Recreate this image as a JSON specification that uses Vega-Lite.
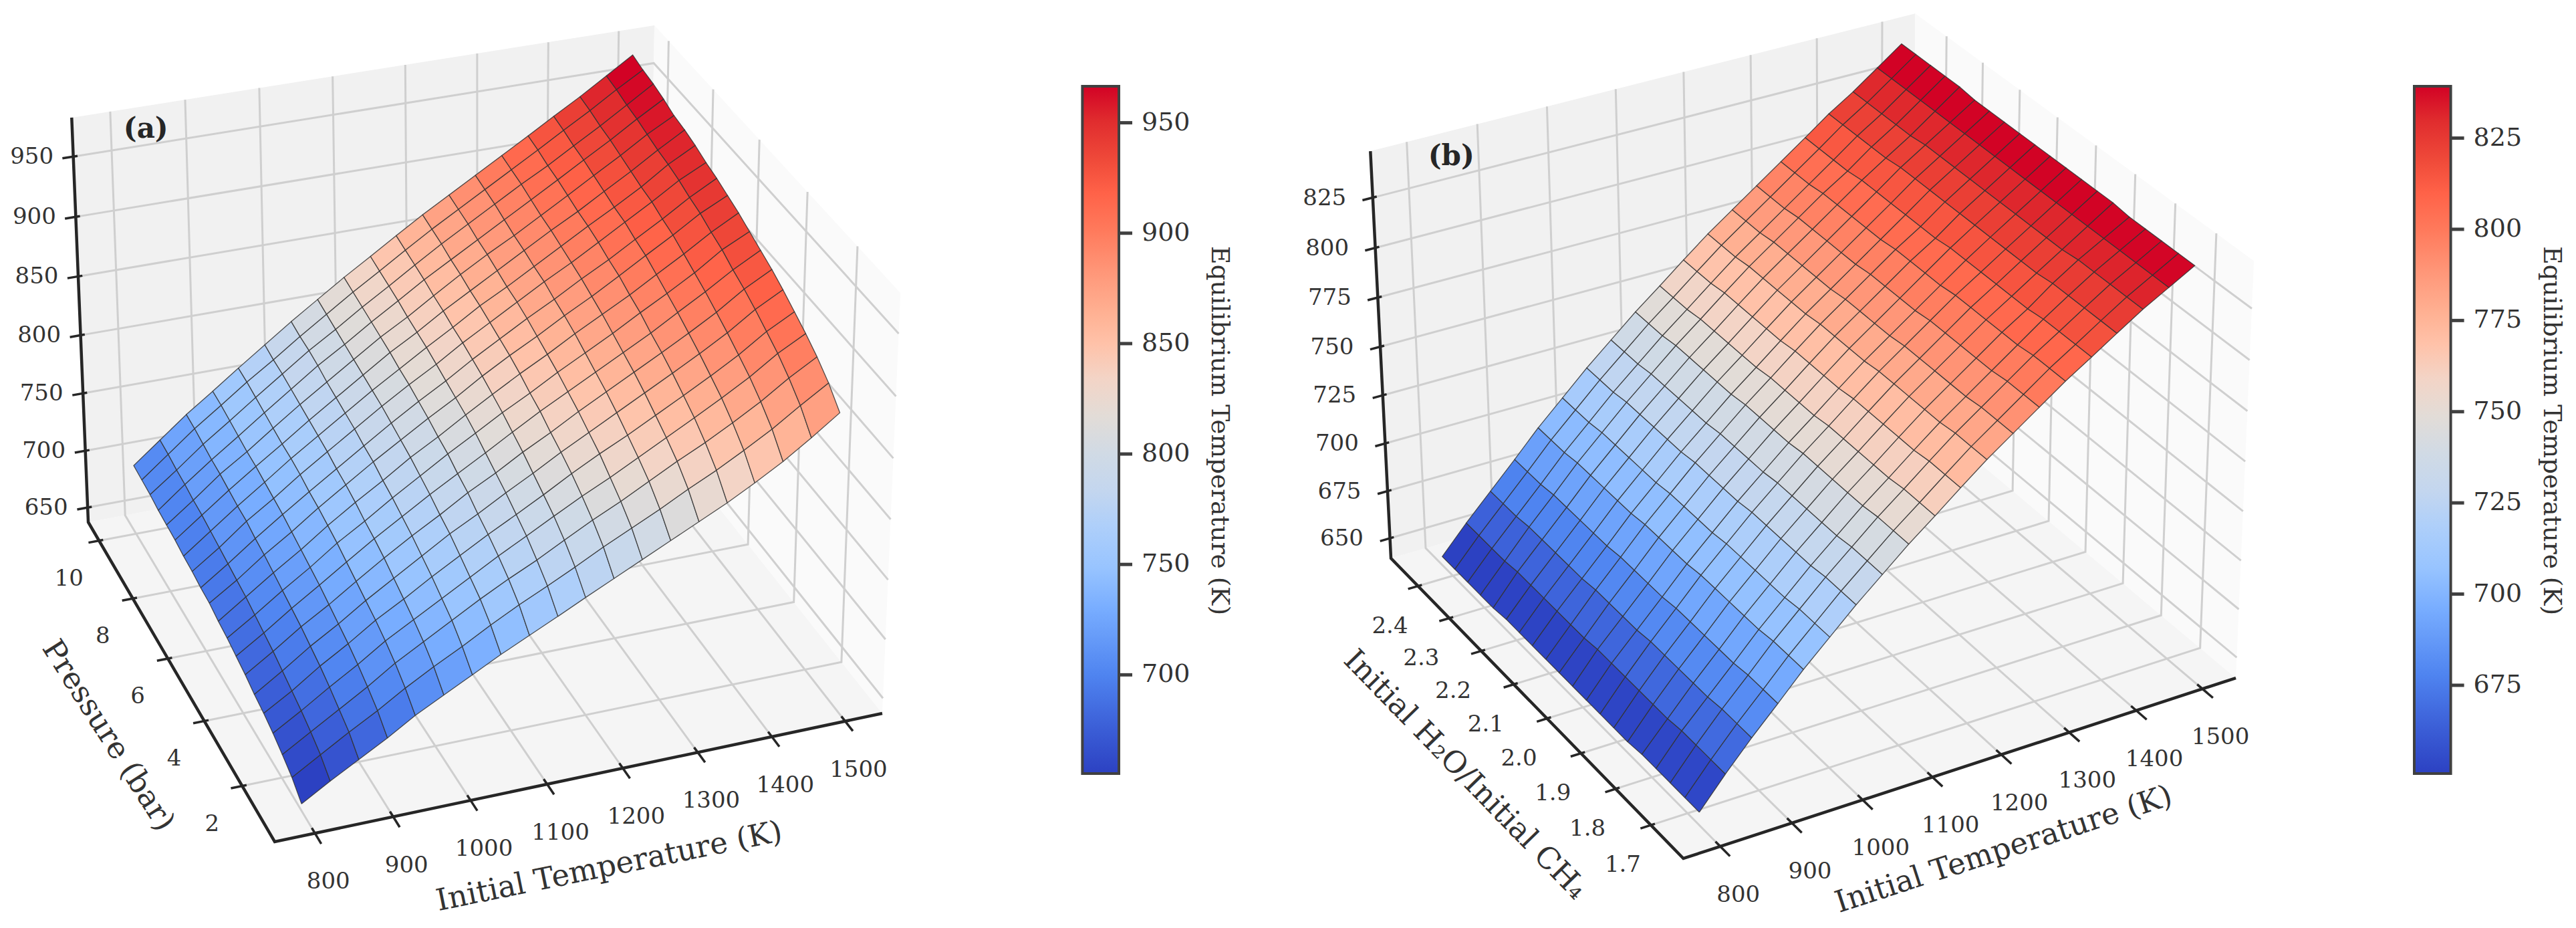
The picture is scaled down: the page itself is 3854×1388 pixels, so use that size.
{"$schema":"https://vega.github.io/schema/vega-lite/v6.json","width":3854,"height":1388,"padding":0,"autosize":{"type":"fit","contains":"padding"},"background":"white","config":{"view":{"stroke":null}},
"params":[{"name":"H","value":[[411,967.7,-265.1,-32.2,1259,-144.5,-396,-676.5,1,0.0445,0.105,-0.045,0.344,10.312,637,345,655.3,3.303,1619.4,1674,966.5],[2518.5,1009.9,-243.3,-130,1284,-214.4,-371.1,-676.5,1,0.0548,0.0933,-0.047,1.61,0.878,639.3,208.65,650.8,5.456,3612,3666.6,839.2]]}],
"data":{"values":[
{"p":0,"k":"pane","s":"f","n":0,"T":749,"y":0.344,"Z":637},{"p":0,"k":"pane","s":"f","n":1,"T":1551,"y":0.344,"Z":637},{"p":0,"k":"pane","s":"f","n":2,"T":1551,"y":10.656,"Z":637},{"p":0,"k":"pane","s":"f","n":3,"T":749,"y":10.656,"Z":637},
{"p":0,"k":"pane","s":"b","n":0,"T":749,"y":10.656,"Z":637},{"p":0,"k":"pane","s":"b","n":1,"T":1551,"y":10.656,"Z":637},{"p":0,"k":"pane","s":"b","n":2,"T":1551,"y":10.656,"Z":982},{"p":0,"k":"pane","s":"b","n":3,"T":749,"y":10.656,"Z":982},
{"p":0,"k":"pane","s":"r","n":0,"T":1551,"y":0.344,"Z":637},{"p":0,"k":"pane","s":"r","n":1,"T":1551,"y":10.656,"Z":637},{"p":0,"k":"pane","s":"r","n":2,"T":1551,"y":10.656,"Z":982},{"p":0,"k":"pane","s":"r","n":3,"T":1551,"y":0.344,"Z":982},
{"p":1,"k":"pane","s":"f","n":0,"T":749,"y":1.61,"Z":639.3},{"p":1,"k":"pane","s":"f","n":1,"T":1551,"y":1.61,"Z":639.3},{"p":1,"k":"pane","s":"f","n":2,"T":1551,"y":2.488,"Z":639.3},{"p":1,"k":"pane","s":"f","n":3,"T":749,"y":2.488,"Z":639.3},
{"p":1,"k":"pane","s":"b","n":0,"T":749,"y":2.488,"Z":639.3},{"p":1,"k":"pane","s":"b","n":1,"T":1551,"y":2.488,"Z":639.3},{"p":1,"k":"pane","s":"b","n":2,"T":1551,"y":2.488,"Z":847.9},{"p":1,"k":"pane","s":"b","n":3,"T":749,"y":2.488,"Z":847.9},
{"p":1,"k":"pane","s":"r","n":0,"T":1551,"y":1.61,"Z":639.3},{"p":1,"k":"pane","s":"r","n":1,"T":1551,"y":2.488,"Z":639.3},{"p":1,"k":"pane","s":"r","n":2,"T":1551,"y":2.488,"Z":847.9},{"p":1,"k":"pane","s":"r","n":3,"T":1551,"y":1.61,"Z":847.9},
{"p":0,"k":"ax","n":0,"T":1551,"y":0.344,"Z":637},{"p":0,"k":"ax","n":1,"T":749,"y":0.344,"Z":637},{"p":0,"k":"ax","n":2,"T":749,"y":10.656,"Z":637},{"p":0,"k":"ax","n":3,"T":749,"y":10.656,"Z":982},
{"p":1,"k":"ax","n":0,"T":1551,"y":1.61,"Z":639.3},{"p":1,"k":"ax","n":1,"T":749,"y":1.61,"Z":639.3},{"p":1,"k":"ax","n":2,"T":749,"y":2.488,"Z":639.3},{"p":1,"k":"ax","n":3,"T":749,"y":2.488,"Z":847.9},
{"p":0,"k":"T","t":800},{"p":0,"k":"T","t":900},{"p":0,"k":"T","t":1000},{"p":0,"k":"T","t":1100},{"p":0,"k":"T","t":1200},{"p":0,"k":"T","t":1300},{"p":0,"k":"T","t":1400},{"p":0,"k":"T","t":1500},
{"p":0,"k":"y","t":2},{"p":0,"k":"y","t":4},{"p":0,"k":"y","t":6},{"p":0,"k":"y","t":8},{"p":0,"k":"y","t":10},
{"p":0,"k":"Z","t":650},{"p":0,"k":"Z","t":700},{"p":0,"k":"Z","t":750},{"p":0,"k":"Z","t":800},{"p":0,"k":"Z","t":850},{"p":0,"k":"Z","t":900},{"p":0,"k":"Z","t":950},
{"p":1,"k":"T","t":800},{"p":1,"k":"T","t":900},{"p":1,"k":"T","t":1000},{"p":1,"k":"T","t":1100},{"p":1,"k":"T","t":1200},{"p":1,"k":"T","t":1300},{"p":1,"k":"T","t":1400},{"p":1,"k":"T","t":1500},
{"p":1,"k":"y","t":1.7},{"p":1,"k":"y","t":1.8},{"p":1,"k":"y","t":1.9},{"p":1,"k":"y","t":2.0},{"p":1,"k":"y","t":2.1},{"p":1,"k":"y","t":2.2},{"p":1,"k":"y","t":2.3},{"p":1,"k":"y","t":2.4},
{"p":1,"k":"Z","t":650},{"p":1,"k":"Z","t":675},{"p":1,"k":"Z","t":700},{"p":1,"k":"Z","t":725},{"p":1,"k":"Z","t":750},{"p":1,"k":"Z","t":775},{"p":1,"k":"Z","t":800},{"p":1,"k":"Z","t":825},
{"p":0,"k":"T","t":1150,"title":"Initial Temperature (K)"},{"p":0,"k":"y","t":6,"title":"Pressure (bar)"},{"p":0,"k":"Z","t":982,"title":"(a)"},
{"p":1,"k":"T","t":1150,"title":"Initial Temperature (K)"},{"p":1,"k":"y","t":2.0,"title":"Initial H₂O/Initial CH₄"},{"p":1,"k":"Z","t":847.9,"title":"(b)"},
{"p":0,"k":"cb","cz":655.3,"cz2":966.5},{"p":1,"k":"cb","cz":650.8,"cz2":839.2},
{"p":0,"k":"ct","cz":700},{"p":0,"k":"ct","cz":750},{"p":0,"k":"ct","cz":800},{"p":0,"k":"ct","cz":850},{"p":0,"k":"ct","cz":900},{"p":0,"k":"ct","cz":950},
{"p":1,"k":"ct","cz":675},{"p":1,"k":"ct","cz":700},{"p":1,"k":"ct","cz":725},{"p":1,"k":"ct","cz":750},{"p":1,"k":"ct","cz":775},{"p":1,"k":"ct","cz":800},{"p":1,"k":"ct","cz":825},
{"p":0,"k":"cl","cz":810.6,"title":"Equilibrium Temperature (K)"},{"p":1,"k":"cl","cz":744.8,"title":"Equilibrium Temperature (K)"},
{"p":0,"T":800,"y":1,"Z":643},{"p":0,"T":800,"y":1.47,"Z":652},{"p":0,"T":800,"y":1.95,"Z":658},{"p":0,"T":800,"y":2.42,"Z":663},{"p":0,"T":800,"y":2.89,"Z":667},{"p":0,"T":800,"y":3.37,"Z":670},{"p":0,"T":800,"y":3.84,"Z":674},{"p":0,"T":800,"y":4.32,"Z":677},{"p":0,"T":800,"y":4.79,"Z":680},{"p":0,"T":800,"y":5.26,"Z":682},{"p":0,"T":800,"y":5.74,"Z":685},{"p":0,"T":800,"y":6.21,"Z":686},{"p":0,"T":800,"y":6.68,"Z":688},{"p":0,"T":800,"y":7.16,"Z":689},{"p":0,"T":800,"y":7.63,"Z":691},{"p":0,"T":800,"y":8.11,"Z":692},{"p":0,"T":800,"y":8.58,"Z":693},{"p":0,"T":800,"y":9.05,"Z":695},{"p":0,"T":800,"y":9.53,"Z":696},{"p":0,"T":800,"y":10,"Z":697},
{"p":0,"T":837,"y":1,"Z":657},{"p":0,"T":837,"y":1.47,"Z":666},{"p":0,"T":837,"y":1.95,"Z":672},{"p":0,"T":837,"y":2.42,"Z":677},{"p":0,"T":837,"y":2.89,"Z":681},{"p":0,"T":837,"y":3.37,"Z":685},{"p":0,"T":837,"y":3.84,"Z":689},{"p":0,"T":837,"y":4.32,"Z":692},{"p":0,"T":837,"y":4.79,"Z":695},{"p":0,"T":837,"y":5.26,"Z":698},{"p":0,"T":837,"y":5.74,"Z":700},{"p":0,"T":837,"y":6.21,"Z":702},{"p":0,"T":837,"y":6.68,"Z":704},{"p":0,"T":837,"y":7.16,"Z":706},{"p":0,"T":837,"y":7.63,"Z":708},{"p":0,"T":837,"y":8.11,"Z":709},{"p":0,"T":837,"y":8.58,"Z":711},{"p":0,"T":837,"y":9.05,"Z":712},{"p":0,"T":837,"y":9.53,"Z":714},{"p":0,"T":837,"y":10,"Z":715},
{"p":0,"T":874,"y":1,"Z":670},{"p":0,"T":874,"y":1.47,"Z":680},{"p":0,"T":874,"y":1.95,"Z":686},{"p":0,"T":874,"y":2.42,"Z":692},{"p":0,"T":874,"y":2.89,"Z":697},{"p":0,"T":874,"y":3.37,"Z":701},{"p":0,"T":874,"y":3.84,"Z":705},{"p":0,"T":874,"y":4.32,"Z":708},{"p":0,"T":874,"y":4.79,"Z":711},{"p":0,"T":874,"y":5.26,"Z":714},{"p":0,"T":874,"y":5.74,"Z":717},{"p":0,"T":874,"y":6.21,"Z":719},{"p":0,"T":874,"y":6.68,"Z":722},{"p":0,"T":874,"y":7.16,"Z":723},{"p":0,"T":874,"y":7.63,"Z":725},{"p":0,"T":874,"y":8.11,"Z":727},{"p":0,"T":874,"y":8.58,"Z":728},{"p":0,"T":874,"y":9.05,"Z":730},{"p":0,"T":874,"y":9.53,"Z":732},{"p":0,"T":874,"y":10,"Z":733},
{"p":0,"T":911,"y":1,"Z":683},{"p":0,"T":911,"y":1.47,"Z":693},{"p":0,"T":911,"y":1.95,"Z":700},{"p":0,"T":911,"y":2.42,"Z":706},{"p":0,"T":911,"y":2.89,"Z":711},{"p":0,"T":911,"y":3.37,"Z":715},{"p":0,"T":911,"y":3.84,"Z":719},{"p":0,"T":911,"y":4.32,"Z":723},{"p":0,"T":911,"y":4.79,"Z":726},{"p":0,"T":911,"y":5.26,"Z":729},{"p":0,"T":911,"y":5.74,"Z":732},{"p":0,"T":911,"y":6.21,"Z":735},{"p":0,"T":911,"y":6.68,"Z":737},{"p":0,"T":911,"y":7.16,"Z":739},{"p":0,"T":911,"y":7.63,"Z":741},{"p":0,"T":911,"y":8.11,"Z":742},{"p":0,"T":911,"y":8.58,"Z":744},{"p":0,"T":911,"y":9.05,"Z":746},{"p":0,"T":911,"y":9.53,"Z":748},{"p":0,"T":911,"y":10,"Z":749},
{"p":0,"T":947,"y":1,"Z":697},{"p":0,"T":947,"y":1.47,"Z":707},{"p":0,"T":947,"y":1.95,"Z":715},{"p":0,"T":947,"y":2.42,"Z":721},{"p":0,"T":947,"y":2.89,"Z":726},{"p":0,"T":947,"y":3.37,"Z":730},{"p":0,"T":947,"y":3.84,"Z":734},{"p":0,"T":947,"y":4.32,"Z":738},{"p":0,"T":947,"y":4.79,"Z":742},{"p":0,"T":947,"y":5.26,"Z":745},{"p":0,"T":947,"y":5.74,"Z":748},{"p":0,"T":947,"y":6.21,"Z":750},{"p":0,"T":947,"y":6.68,"Z":753},{"p":0,"T":947,"y":7.16,"Z":755},{"p":0,"T":947,"y":7.63,"Z":756},{"p":0,"T":947,"y":8.11,"Z":758},{"p":0,"T":947,"y":8.58,"Z":760},{"p":0,"T":947,"y":9.05,"Z":762},{"p":0,"T":947,"y":9.53,"Z":764},{"p":0,"T":947,"y":10,"Z":765},
{"p":0,"T":984,"y":1,"Z":709},{"p":0,"T":984,"y":1.47,"Z":720},{"p":0,"T":984,"y":1.95,"Z":728},{"p":0,"T":984,"y":2.42,"Z":734},{"p":0,"T":984,"y":2.89,"Z":739},{"p":0,"T":984,"y":3.37,"Z":744},{"p":0,"T":984,"y":3.84,"Z":749},{"p":0,"T":984,"y":4.32,"Z":753},{"p":0,"T":984,"y":4.79,"Z":756},{"p":0,"T":984,"y":5.26,"Z":760},{"p":0,"T":984,"y":5.74,"Z":763},{"p":0,"T":984,"y":6.21,"Z":765},{"p":0,"T":984,"y":6.68,"Z":768},{"p":0,"T":984,"y":7.16,"Z":770},{"p":0,"T":984,"y":7.63,"Z":772},{"p":0,"T":984,"y":8.11,"Z":774},{"p":0,"T":984,"y":8.58,"Z":776},{"p":0,"T":984,"y":9.05,"Z":778},{"p":0,"T":984,"y":9.53,"Z":779},{"p":0,"T":984,"y":10,"Z":781},
{"p":0,"T":1021,"y":1,"Z":721},{"p":0,"T":1021,"y":1.47,"Z":732},{"p":0,"T":1021,"y":1.95,"Z":741},{"p":0,"T":1021,"y":2.42,"Z":747},{"p":0,"T":1021,"y":2.89,"Z":753},{"p":0,"T":1021,"y":3.37,"Z":758},{"p":0,"T":1021,"y":3.84,"Z":763},{"p":0,"T":1021,"y":4.32,"Z":767},{"p":0,"T":1021,"y":4.79,"Z":771},{"p":0,"T":1021,"y":5.26,"Z":774},{"p":0,"T":1021,"y":5.74,"Z":778},{"p":0,"T":1021,"y":6.21,"Z":780},{"p":0,"T":1021,"y":6.68,"Z":783},{"p":0,"T":1021,"y":7.16,"Z":785},{"p":0,"T":1021,"y":7.63,"Z":787},{"p":0,"T":1021,"y":8.11,"Z":789},{"p":0,"T":1021,"y":8.58,"Z":792},{"p":0,"T":1021,"y":9.05,"Z":794},{"p":0,"T":1021,"y":9.53,"Z":795},{"p":0,"T":1021,"y":10,"Z":797},
{"p":0,"T":1058,"y":1,"Z":733},{"p":0,"T":1058,"y":1.47,"Z":745},{"p":0,"T":1058,"y":1.95,"Z":754},{"p":0,"T":1058,"y":2.42,"Z":760},{"p":0,"T":1058,"y":2.89,"Z":766},{"p":0,"T":1058,"y":3.37,"Z":772},{"p":0,"T":1058,"y":3.84,"Z":776},{"p":0,"T":1058,"y":4.32,"Z":781},{"p":0,"T":1058,"y":4.79,"Z":785},{"p":0,"T":1058,"y":5.26,"Z":789},{"p":0,"T":1058,"y":5.74,"Z":792},{"p":0,"T":1058,"y":6.21,"Z":795},{"p":0,"T":1058,"y":6.68,"Z":798},{"p":0,"T":1058,"y":7.16,"Z":800},{"p":0,"T":1058,"y":7.63,"Z":802},{"p":0,"T":1058,"y":8.11,"Z":804},{"p":0,"T":1058,"y":8.58,"Z":806},{"p":0,"T":1058,"y":9.05,"Z":808},{"p":0,"T":1058,"y":9.53,"Z":810},{"p":0,"T":1058,"y":10,"Z":812},
{"p":0,"T":1095,"y":1,"Z":744},{"p":0,"T":1095,"y":1.47,"Z":757},{"p":0,"T":1095,"y":1.95,"Z":766},{"p":0,"T":1095,"y":2.42,"Z":773},{"p":0,"T":1095,"y":2.89,"Z":779},{"p":0,"T":1095,"y":3.37,"Z":784},{"p":0,"T":1095,"y":3.84,"Z":790},{"p":0,"T":1095,"y":4.32,"Z":794},{"p":0,"T":1095,"y":4.79,"Z":799},{"p":0,"T":1095,"y":5.26,"Z":802},{"p":0,"T":1095,"y":5.74,"Z":806},{"p":0,"T":1095,"y":6.21,"Z":809},{"p":0,"T":1095,"y":6.68,"Z":812},{"p":0,"T":1095,"y":7.16,"Z":814},{"p":0,"T":1095,"y":7.63,"Z":817},{"p":0,"T":1095,"y":8.11,"Z":819},{"p":0,"T":1095,"y":8.58,"Z":821},{"p":0,"T":1095,"y":9.05,"Z":823},{"p":0,"T":1095,"y":9.53,"Z":825},{"p":0,"T":1095,"y":10,"Z":827},
{"p":0,"T":1132,"y":1,"Z":755},{"p":0,"T":1132,"y":1.47,"Z":768},{"p":0,"T":1132,"y":1.95,"Z":777},{"p":0,"T":1132,"y":2.42,"Z":785},{"p":0,"T":1132,"y":2.89,"Z":791},{"p":0,"T":1132,"y":3.37,"Z":797},{"p":0,"T":1132,"y":3.84,"Z":802},{"p":0,"T":1132,"y":4.32,"Z":807},{"p":0,"T":1132,"y":4.79,"Z":812},{"p":0,"T":1132,"y":5.26,"Z":816},{"p":0,"T":1132,"y":5.74,"Z":819},{"p":0,"T":1132,"y":6.21,"Z":822},{"p":0,"T":1132,"y":6.68,"Z":825},{"p":0,"T":1132,"y":7.16,"Z":828},{"p":0,"T":1132,"y":7.63,"Z":830},{"p":0,"T":1132,"y":8.11,"Z":832},{"p":0,"T":1132,"y":8.58,"Z":835},{"p":0,"T":1132,"y":9.05,"Z":837},{"p":0,"T":1132,"y":9.53,"Z":839},{"p":0,"T":1132,"y":10,"Z":841},
{"p":0,"T":1168,"y":1,"Z":766},{"p":0,"T":1168,"y":1.47,"Z":779},{"p":0,"T":1168,"y":1.95,"Z":789},{"p":0,"T":1168,"y":2.42,"Z":797},{"p":0,"T":1168,"y":2.89,"Z":803},{"p":0,"T":1168,"y":3.37,"Z":809},{"p":0,"T":1168,"y":3.84,"Z":815},{"p":0,"T":1168,"y":4.32,"Z":820},{"p":0,"T":1168,"y":4.79,"Z":825},{"p":0,"T":1168,"y":5.26,"Z":829},{"p":0,"T":1168,"y":5.74,"Z":833},{"p":0,"T":1168,"y":6.21,"Z":836},{"p":0,"T":1168,"y":6.68,"Z":839},{"p":0,"T":1168,"y":7.16,"Z":841},{"p":0,"T":1168,"y":7.63,"Z":844},{"p":0,"T":1168,"y":8.11,"Z":846},{"p":0,"T":1168,"y":8.58,"Z":849},{"p":0,"T":1168,"y":9.05,"Z":851},{"p":0,"T":1168,"y":9.53,"Z":853},{"p":0,"T":1168,"y":10,"Z":855},
{"p":0,"T":1205,"y":1,"Z":777},{"p":0,"T":1205,"y":1.47,"Z":791},{"p":0,"T":1205,"y":1.95,"Z":801},{"p":0,"T":1205,"y":2.42,"Z":809},{"p":0,"T":1205,"y":2.89,"Z":816},{"p":0,"T":1205,"y":3.37,"Z":822},{"p":0,"T":1205,"y":3.84,"Z":827},{"p":0,"T":1205,"y":4.32,"Z":833},{"p":0,"T":1205,"y":4.79,"Z":837},{"p":0,"T":1205,"y":5.26,"Z":842},{"p":0,"T":1205,"y":5.74,"Z":846},{"p":0,"T":1205,"y":6.21,"Z":849},{"p":0,"T":1205,"y":6.68,"Z":852},{"p":0,"T":1205,"y":7.16,"Z":855},{"p":0,"T":1205,"y":7.63,"Z":857},{"p":0,"T":1205,"y":8.11,"Z":860},{"p":0,"T":1205,"y":8.58,"Z":862},{"p":0,"T":1205,"y":9.05,"Z":865},{"p":0,"T":1205,"y":9.53,"Z":867},{"p":0,"T":1205,"y":10,"Z":869},
{"p":0,"T":1242,"y":1,"Z":788},{"p":0,"T":1242,"y":1.47,"Z":802},{"p":0,"T":1242,"y":1.95,"Z":812},{"p":0,"T":1242,"y":2.42,"Z":820},{"p":0,"T":1242,"y":2.89,"Z":828},{"p":0,"T":1242,"y":3.37,"Z":834},{"p":0,"T":1242,"y":3.84,"Z":840},{"p":0,"T":1242,"y":4.32,"Z":845},{"p":0,"T":1242,"y":4.79,"Z":850},{"p":0,"T":1242,"y":5.26,"Z":854},{"p":0,"T":1242,"y":5.74,"Z":858},{"p":0,"T":1242,"y":6.21,"Z":862},{"p":0,"T":1242,"y":6.68,"Z":865},{"p":0,"T":1242,"y":7.16,"Z":867},{"p":0,"T":1242,"y":7.63,"Z":870},{"p":0,"T":1242,"y":8.11,"Z":873},{"p":0,"T":1242,"y":8.58,"Z":875},{"p":0,"T":1242,"y":9.05,"Z":878},{"p":0,"T":1242,"y":9.53,"Z":880},{"p":0,"T":1242,"y":10,"Z":882},
{"p":0,"T":1279,"y":1,"Z":799},{"p":0,"T":1279,"y":1.47,"Z":813},{"p":0,"T":1279,"y":1.95,"Z":824},{"p":0,"T":1279,"y":2.42,"Z":832},{"p":0,"T":1279,"y":2.89,"Z":839},{"p":0,"T":1279,"y":3.37,"Z":846},{"p":0,"T":1279,"y":3.84,"Z":852},{"p":0,"T":1279,"y":4.32,"Z":857},{"p":0,"T":1279,"y":4.79,"Z":862},{"p":0,"T":1279,"y":5.26,"Z":867},{"p":0,"T":1279,"y":5.74,"Z":871},{"p":0,"T":1279,"y":6.21,"Z":874},{"p":0,"T":1279,"y":6.68,"Z":878},{"p":0,"T":1279,"y":7.16,"Z":880},{"p":0,"T":1279,"y":7.63,"Z":883},{"p":0,"T":1279,"y":8.11,"Z":885},{"p":0,"T":1279,"y":8.58,"Z":888},{"p":0,"T":1279,"y":9.05,"Z":891},{"p":0,"T":1279,"y":9.53,"Z":893},{"p":0,"T":1279,"y":10,"Z":895},
{"p":0,"T":1316,"y":1,"Z":810},{"p":0,"T":1316,"y":1.47,"Z":825},{"p":0,"T":1316,"y":1.95,"Z":836},{"p":0,"T":1316,"y":2.42,"Z":844},{"p":0,"T":1316,"y":2.89,"Z":851},{"p":0,"T":1316,"y":3.37,"Z":858},{"p":0,"T":1316,"y":3.84,"Z":864},{"p":0,"T":1316,"y":4.32,"Z":869},{"p":0,"T":1316,"y":4.79,"Z":874},{"p":0,"T":1316,"y":5.26,"Z":879},{"p":0,"T":1316,"y":5.74,"Z":883},{"p":0,"T":1316,"y":6.21,"Z":887},{"p":0,"T":1316,"y":6.68,"Z":890},{"p":0,"T":1316,"y":7.16,"Z":893},{"p":0,"T":1316,"y":7.63,"Z":896},{"p":0,"T":1316,"y":8.11,"Z":898},{"p":0,"T":1316,"y":8.58,"Z":901},{"p":0,"T":1316,"y":9.05,"Z":904},{"p":0,"T":1316,"y":9.53,"Z":906},{"p":0,"T":1316,"y":10,"Z":908},
{"p":0,"T":1353,"y":1,"Z":821},{"p":0,"T":1353,"y":1.47,"Z":836},{"p":0,"T":1353,"y":1.95,"Z":847},{"p":0,"T":1353,"y":2.42,"Z":856},{"p":0,"T":1353,"y":2.89,"Z":863},{"p":0,"T":1353,"y":3.37,"Z":870},{"p":0,"T":1353,"y":3.84,"Z":876},{"p":0,"T":1353,"y":4.32,"Z":881},{"p":0,"T":1353,"y":4.79,"Z":887},{"p":0,"T":1353,"y":5.26,"Z":891},{"p":0,"T":1353,"y":5.74,"Z":896},{"p":0,"T":1353,"y":6.21,"Z":899},{"p":0,"T":1353,"y":6.68,"Z":903},{"p":0,"T":1353,"y":7.16,"Z":906},{"p":0,"T":1353,"y":7.63,"Z":908},{"p":0,"T":1353,"y":8.11,"Z":911},{"p":0,"T":1353,"y":8.58,"Z":914},{"p":0,"T":1353,"y":9.05,"Z":916},{"p":0,"T":1353,"y":9.53,"Z":919},{"p":0,"T":1353,"y":10,"Z":921},
{"p":0,"T":1389,"y":1,"Z":833},{"p":0,"T":1389,"y":1.47,"Z":848},{"p":0,"T":1389,"y":1.95,"Z":859},{"p":0,"T":1389,"y":2.42,"Z":868},{"p":0,"T":1389,"y":2.89,"Z":875},{"p":0,"T":1389,"y":3.37,"Z":882},{"p":0,"T":1389,"y":3.84,"Z":888},{"p":0,"T":1389,"y":4.32,"Z":894},{"p":0,"T":1389,"y":4.79,"Z":899},{"p":0,"T":1389,"y":5.26,"Z":904},{"p":0,"T":1389,"y":5.74,"Z":909},{"p":0,"T":1389,"y":6.21,"Z":912},{"p":0,"T":1389,"y":6.68,"Z":916},{"p":0,"T":1389,"y":7.16,"Z":918},{"p":0,"T":1389,"y":7.63,"Z":921},{"p":0,"T":1389,"y":8.11,"Z":924},{"p":0,"T":1389,"y":8.58,"Z":927},{"p":0,"T":1389,"y":9.05,"Z":929},{"p":0,"T":1389,"y":9.53,"Z":932},{"p":0,"T":1389,"y":10,"Z":934},
{"p":0,"T":1426,"y":1,"Z":846},{"p":0,"T":1426,"y":1.47,"Z":861},{"p":0,"T":1426,"y":1.95,"Z":872},{"p":0,"T":1426,"y":2.42,"Z":881},{"p":0,"T":1426,"y":2.89,"Z":888},{"p":0,"T":1426,"y":3.37,"Z":895},{"p":0,"T":1426,"y":3.84,"Z":901},{"p":0,"T":1426,"y":4.32,"Z":907},{"p":0,"T":1426,"y":4.79,"Z":912},{"p":0,"T":1426,"y":5.26,"Z":917},{"p":0,"T":1426,"y":5.74,"Z":922},{"p":0,"T":1426,"y":6.21,"Z":925},{"p":0,"T":1426,"y":6.68,"Z":929},{"p":0,"T":1426,"y":7.16,"Z":931},{"p":0,"T":1426,"y":7.63,"Z":934},{"p":0,"T":1426,"y":8.11,"Z":937},{"p":0,"T":1426,"y":8.58,"Z":940},{"p":0,"T":1426,"y":9.05,"Z":942},{"p":0,"T":1426,"y":9.53,"Z":945},{"p":0,"T":1426,"y":10,"Z":947},
{"p":0,"T":1463,"y":1,"Z":861},{"p":0,"T":1463,"y":1.47,"Z":876},{"p":0,"T":1463,"y":1.95,"Z":887},{"p":0,"T":1463,"y":2.42,"Z":896},{"p":0,"T":1463,"y":2.89,"Z":903},{"p":0,"T":1463,"y":3.37,"Z":910},{"p":0,"T":1463,"y":3.84,"Z":916},{"p":0,"T":1463,"y":4.32,"Z":921},{"p":0,"T":1463,"y":4.79,"Z":927},{"p":0,"T":1463,"y":5.26,"Z":931},{"p":0,"T":1463,"y":5.74,"Z":936},{"p":0,"T":1463,"y":6.21,"Z":939},{"p":0,"T":1463,"y":6.68,"Z":943},{"p":0,"T":1463,"y":7.16,"Z":946},{"p":0,"T":1463,"y":7.63,"Z":948},{"p":0,"T":1463,"y":8.11,"Z":951},{"p":0,"T":1463,"y":8.58,"Z":954},{"p":0,"T":1463,"y":9.05,"Z":956},{"p":0,"T":1463,"y":9.53,"Z":959},{"p":0,"T":1463,"y":10,"Z":961},
{"p":0,"T":1500,"y":1,"Z":877},{"p":0,"T":1500,"y":1.47,"Z":890},{"p":0,"T":1500,"y":1.95,"Z":900},{"p":0,"T":1500,"y":2.42,"Z":908},{"p":0,"T":1500,"y":2.89,"Z":915},{"p":0,"T":1500,"y":3.37,"Z":922},{"p":0,"T":1500,"y":3.84,"Z":928},{"p":0,"T":1500,"y":4.32,"Z":933},{"p":0,"T":1500,"y":4.79,"Z":938},{"p":0,"T":1500,"y":5.26,"Z":943},{"p":0,"T":1500,"y":5.74,"Z":947},{"p":0,"T":1500,"y":6.21,"Z":951},{"p":0,"T":1500,"y":6.68,"Z":954},{"p":0,"T":1500,"y":7.16,"Z":958},{"p":0,"T":1500,"y":7.63,"Z":961},{"p":0,"T":1500,"y":8.11,"Z":963},{"p":0,"T":1500,"y":8.58,"Z":967},{"p":0,"T":1500,"y":9.05,"Z":970},{"p":0,"T":1500,"y":9.53,"Z":972},{"p":0,"T":1500,"y":10,"Z":975},
{"p":1,"T":800,"y":1.667,"Z":646},{"p":1,"T":800,"y":1.707,"Z":646},{"p":1,"T":800,"y":1.748,"Z":646},{"p":1,"T":800,"y":1.788,"Z":646},{"p":1,"T":800,"y":1.828,"Z":646},{"p":1,"T":800,"y":1.869,"Z":645},{"p":1,"T":800,"y":1.909,"Z":645},{"p":1,"T":800,"y":1.949,"Z":645},{"p":1,"T":800,"y":1.989,"Z":645},{"p":1,"T":800,"y":2.03,"Z":645},{"p":1,"T":800,"y":2.07,"Z":645},{"p":1,"T":800,"y":2.11,"Z":645},{"p":1,"T":800,"y":2.151,"Z":645},{"p":1,"T":800,"y":2.191,"Z":645},{"p":1,"T":800,"y":2.231,"Z":645},{"p":1,"T":800,"y":2.272,"Z":644},{"p":1,"T":800,"y":2.312,"Z":644},{"p":1,"T":800,"y":2.352,"Z":644},{"p":1,"T":800,"y":2.393,"Z":644},{"p":1,"T":800,"y":2.433,"Z":644},
{"p":1,"T":837,"y":1.667,"Z":661},{"p":1,"T":837,"y":1.707,"Z":661},{"p":1,"T":837,"y":1.748,"Z":661},{"p":1,"T":837,"y":1.788,"Z":661},{"p":1,"T":837,"y":1.828,"Z":660},{"p":1,"T":837,"y":1.869,"Z":660},{"p":1,"T":837,"y":1.909,"Z":660},{"p":1,"T":837,"y":1.949,"Z":660},{"p":1,"T":837,"y":1.989,"Z":660},{"p":1,"T":837,"y":2.03,"Z":660},{"p":1,"T":837,"y":2.07,"Z":659},{"p":1,"T":837,"y":2.11,"Z":659},{"p":1,"T":837,"y":2.151,"Z":659},{"p":1,"T":837,"y":2.191,"Z":659},{"p":1,"T":837,"y":2.231,"Z":659},{"p":1,"T":837,"y":2.272,"Z":659},{"p":1,"T":837,"y":2.312,"Z":658},{"p":1,"T":837,"y":2.352,"Z":658},{"p":1,"T":837,"y":2.393,"Z":658},{"p":1,"T":837,"y":2.433,"Z":658},
{"p":1,"T":874,"y":1.667,"Z":675},{"p":1,"T":874,"y":1.707,"Z":675},{"p":1,"T":874,"y":1.748,"Z":675},{"p":1,"T":874,"y":1.788,"Z":674},{"p":1,"T":874,"y":1.828,"Z":674},{"p":1,"T":874,"y":1.869,"Z":674},{"p":1,"T":874,"y":1.909,"Z":674},{"p":1,"T":874,"y":1.949,"Z":674},{"p":1,"T":874,"y":1.989,"Z":673},{"p":1,"T":874,"y":2.03,"Z":673},{"p":1,"T":874,"y":2.07,"Z":673},{"p":1,"T":874,"y":2.11,"Z":673},{"p":1,"T":874,"y":2.151,"Z":672},{"p":1,"T":874,"y":2.191,"Z":672},{"p":1,"T":874,"y":2.231,"Z":672},{"p":1,"T":874,"y":2.272,"Z":672},{"p":1,"T":874,"y":2.312,"Z":672},{"p":1,"T":874,"y":2.352,"Z":671},{"p":1,"T":874,"y":2.393,"Z":671},{"p":1,"T":874,"y":2.433,"Z":671},
{"p":1,"T":911,"y":1.667,"Z":688},{"p":1,"T":911,"y":1.707,"Z":688},{"p":1,"T":911,"y":1.748,"Z":688},{"p":1,"T":911,"y":1.788,"Z":687},{"p":1,"T":911,"y":1.828,"Z":687},{"p":1,"T":911,"y":1.869,"Z":687},{"p":1,"T":911,"y":1.909,"Z":687},{"p":1,"T":911,"y":1.949,"Z":687},{"p":1,"T":911,"y":1.989,"Z":686},{"p":1,"T":911,"y":2.03,"Z":686},{"p":1,"T":911,"y":2.07,"Z":686},{"p":1,"T":911,"y":2.11,"Z":686},{"p":1,"T":911,"y":2.151,"Z":685},{"p":1,"T":911,"y":2.191,"Z":685},{"p":1,"T":911,"y":2.231,"Z":685},{"p":1,"T":911,"y":2.272,"Z":685},{"p":1,"T":911,"y":2.312,"Z":685},{"p":1,"T":911,"y":2.352,"Z":684},{"p":1,"T":911,"y":2.393,"Z":684},{"p":1,"T":911,"y":2.433,"Z":684},
{"p":1,"T":947,"y":1.667,"Z":701},{"p":1,"T":947,"y":1.707,"Z":701},{"p":1,"T":947,"y":1.748,"Z":701},{"p":1,"T":947,"y":1.788,"Z":700},{"p":1,"T":947,"y":1.828,"Z":700},{"p":1,"T":947,"y":1.869,"Z":700},{"p":1,"T":947,"y":1.909,"Z":700},{"p":1,"T":947,"y":1.949,"Z":700},{"p":1,"T":947,"y":1.989,"Z":699},{"p":1,"T":947,"y":2.03,"Z":699},{"p":1,"T":947,"y":2.07,"Z":699},{"p":1,"T":947,"y":2.11,"Z":699},{"p":1,"T":947,"y":2.151,"Z":698},{"p":1,"T":947,"y":2.191,"Z":698},{"p":1,"T":947,"y":2.231,"Z":698},{"p":1,"T":947,"y":2.272,"Z":698},{"p":1,"T":947,"y":2.312,"Z":698},{"p":1,"T":947,"y":2.352,"Z":697},{"p":1,"T":947,"y":2.393,"Z":697},{"p":1,"T":947,"y":2.433,"Z":697},
{"p":1,"T":984,"y":1.667,"Z":713},{"p":1,"T":984,"y":1.707,"Z":713},{"p":1,"T":984,"y":1.748,"Z":713},{"p":1,"T":984,"y":1.788,"Z":712},{"p":1,"T":984,"y":1.828,"Z":712},{"p":1,"T":984,"y":1.869,"Z":712},{"p":1,"T":984,"y":1.909,"Z":712},{"p":1,"T":984,"y":1.949,"Z":712},{"p":1,"T":984,"y":1.989,"Z":711},{"p":1,"T":984,"y":2.03,"Z":711},{"p":1,"T":984,"y":2.07,"Z":711},{"p":1,"T":984,"y":2.11,"Z":711},{"p":1,"T":984,"y":2.151,"Z":710},{"p":1,"T":984,"y":2.191,"Z":710},{"p":1,"T":984,"y":2.231,"Z":710},{"p":1,"T":984,"y":2.272,"Z":710},{"p":1,"T":984,"y":2.312,"Z":710},{"p":1,"T":984,"y":2.352,"Z":709},{"p":1,"T":984,"y":2.393,"Z":709},{"p":1,"T":984,"y":2.433,"Z":709},
{"p":1,"T":1021,"y":1.667,"Z":725},{"p":1,"T":1021,"y":1.707,"Z":725},{"p":1,"T":1021,"y":1.748,"Z":725},{"p":1,"T":1021,"y":1.788,"Z":724},{"p":1,"T":1021,"y":1.828,"Z":724},{"p":1,"T":1021,"y":1.869,"Z":724},{"p":1,"T":1021,"y":1.909,"Z":724},{"p":1,"T":1021,"y":1.949,"Z":724},{"p":1,"T":1021,"y":1.989,"Z":723},{"p":1,"T":1021,"y":2.03,"Z":723},{"p":1,"T":1021,"y":2.07,"Z":723},{"p":1,"T":1021,"y":2.11,"Z":723},{"p":1,"T":1021,"y":2.151,"Z":722},{"p":1,"T":1021,"y":2.191,"Z":722},{"p":1,"T":1021,"y":2.231,"Z":722},{"p":1,"T":1021,"y":2.272,"Z":722},{"p":1,"T":1021,"y":2.312,"Z":722},{"p":1,"T":1021,"y":2.352,"Z":721},{"p":1,"T":1021,"y":2.393,"Z":721},{"p":1,"T":1021,"y":2.433,"Z":721},
{"p":1,"T":1058,"y":1.667,"Z":736},{"p":1,"T":1058,"y":1.707,"Z":736},{"p":1,"T":1058,"y":1.748,"Z":736},{"p":1,"T":1058,"y":1.788,"Z":735},{"p":1,"T":1058,"y":1.828,"Z":735},{"p":1,"T":1058,"y":1.869,"Z":735},{"p":1,"T":1058,"y":1.909,"Z":735},{"p":1,"T":1058,"y":1.949,"Z":735},{"p":1,"T":1058,"y":1.989,"Z":734},{"p":1,"T":1058,"y":2.03,"Z":734},{"p":1,"T":1058,"y":2.07,"Z":734},{"p":1,"T":1058,"y":2.11,"Z":734},{"p":1,"T":1058,"y":2.151,"Z":733},{"p":1,"T":1058,"y":2.191,"Z":733},{"p":1,"T":1058,"y":2.231,"Z":733},{"p":1,"T":1058,"y":2.272,"Z":733},{"p":1,"T":1058,"y":2.312,"Z":733},{"p":1,"T":1058,"y":2.352,"Z":732},{"p":1,"T":1058,"y":2.393,"Z":732},{"p":1,"T":1058,"y":2.433,"Z":732},
{"p":1,"T":1095,"y":1.667,"Z":747},{"p":1,"T":1095,"y":1.707,"Z":747},{"p":1,"T":1095,"y":1.748,"Z":747},{"p":1,"T":1095,"y":1.788,"Z":746},{"p":1,"T":1095,"y":1.828,"Z":746},{"p":1,"T":1095,"y":1.869,"Z":746},{"p":1,"T":1095,"y":1.909,"Z":746},{"p":1,"T":1095,"y":1.949,"Z":746},{"p":1,"T":1095,"y":1.989,"Z":745},{"p":1,"T":1095,"y":2.03,"Z":745},{"p":1,"T":1095,"y":2.07,"Z":745},{"p":1,"T":1095,"y":2.11,"Z":745},{"p":1,"T":1095,"y":2.151,"Z":744},{"p":1,"T":1095,"y":2.191,"Z":744},{"p":1,"T":1095,"y":2.231,"Z":744},{"p":1,"T":1095,"y":2.272,"Z":744},{"p":1,"T":1095,"y":2.312,"Z":744},{"p":1,"T":1095,"y":2.352,"Z":743},{"p":1,"T":1095,"y":2.393,"Z":743},{"p":1,"T":1095,"y":2.433,"Z":743},
{"p":1,"T":1132,"y":1.667,"Z":757},{"p":1,"T":1132,"y":1.707,"Z":757},{"p":1,"T":1132,"y":1.748,"Z":757},{"p":1,"T":1132,"y":1.788,"Z":756},{"p":1,"T":1132,"y":1.828,"Z":756},{"p":1,"T":1132,"y":1.869,"Z":756},{"p":1,"T":1132,"y":1.909,"Z":756},{"p":1,"T":1132,"y":1.949,"Z":756},{"p":1,"T":1132,"y":1.989,"Z":755},{"p":1,"T":1132,"y":2.03,"Z":755},{"p":1,"T":1132,"y":2.07,"Z":755},{"p":1,"T":1132,"y":2.11,"Z":755},{"p":1,"T":1132,"y":2.151,"Z":754},{"p":1,"T":1132,"y":2.191,"Z":754},{"p":1,"T":1132,"y":2.231,"Z":754},{"p":1,"T":1132,"y":2.272,"Z":754},{"p":1,"T":1132,"y":2.312,"Z":754},{"p":1,"T":1132,"y":2.352,"Z":753},{"p":1,"T":1132,"y":2.393,"Z":753},{"p":1,"T":1132,"y":2.433,"Z":753},
{"p":1,"T":1168,"y":1.667,"Z":767},{"p":1,"T":1168,"y":1.707,"Z":767},{"p":1,"T":1168,"y":1.748,"Z":767},{"p":1,"T":1168,"y":1.788,"Z":766},{"p":1,"T":1168,"y":1.828,"Z":766},{"p":1,"T":1168,"y":1.869,"Z":766},{"p":1,"T":1168,"y":1.909,"Z":766},{"p":1,"T":1168,"y":1.949,"Z":766},{"p":1,"T":1168,"y":1.989,"Z":765},{"p":1,"T":1168,"y":2.03,"Z":765},{"p":1,"T":1168,"y":2.07,"Z":765},{"p":1,"T":1168,"y":2.11,"Z":765},{"p":1,"T":1168,"y":2.151,"Z":764},{"p":1,"T":1168,"y":2.191,"Z":764},{"p":1,"T":1168,"y":2.231,"Z":764},{"p":1,"T":1168,"y":2.272,"Z":764},{"p":1,"T":1168,"y":2.312,"Z":764},{"p":1,"T":1168,"y":2.352,"Z":763},{"p":1,"T":1168,"y":2.393,"Z":763},{"p":1,"T":1168,"y":2.433,"Z":763},
{"p":1,"T":1205,"y":1.667,"Z":777},{"p":1,"T":1205,"y":1.707,"Z":777},{"p":1,"T":1205,"y":1.748,"Z":777},{"p":1,"T":1205,"y":1.788,"Z":776},{"p":1,"T":1205,"y":1.828,"Z":776},{"p":1,"T":1205,"y":1.869,"Z":776},{"p":1,"T":1205,"y":1.909,"Z":776},{"p":1,"T":1205,"y":1.949,"Z":776},{"p":1,"T":1205,"y":1.989,"Z":775},{"p":1,"T":1205,"y":2.03,"Z":775},{"p":1,"T":1205,"y":2.07,"Z":775},{"p":1,"T":1205,"y":2.11,"Z":775},{"p":1,"T":1205,"y":2.151,"Z":774},{"p":1,"T":1205,"y":2.191,"Z":774},{"p":1,"T":1205,"y":2.231,"Z":774},{"p":1,"T":1205,"y":2.272,"Z":774},{"p":1,"T":1205,"y":2.312,"Z":774},{"p":1,"T":1205,"y":2.352,"Z":773},{"p":1,"T":1205,"y":2.393,"Z":773},{"p":1,"T":1205,"y":2.433,"Z":773},
{"p":1,"T":1242,"y":1.667,"Z":786},{"p":1,"T":1242,"y":1.707,"Z":786},{"p":1,"T":1242,"y":1.748,"Z":786},{"p":1,"T":1242,"y":1.788,"Z":785},{"p":1,"T":1242,"y":1.828,"Z":785},{"p":1,"T":1242,"y":1.869,"Z":785},{"p":1,"T":1242,"y":1.909,"Z":785},{"p":1,"T":1242,"y":1.949,"Z":785},{"p":1,"T":1242,"y":1.989,"Z":784},{"p":1,"T":1242,"y":2.03,"Z":784},{"p":1,"T":1242,"y":2.07,"Z":784},{"p":1,"T":1242,"y":2.11,"Z":784},{"p":1,"T":1242,"y":2.151,"Z":783},{"p":1,"T":1242,"y":2.191,"Z":783},{"p":1,"T":1242,"y":2.231,"Z":783},{"p":1,"T":1242,"y":2.272,"Z":783},{"p":1,"T":1242,"y":2.312,"Z":783},{"p":1,"T":1242,"y":2.352,"Z":782},{"p":1,"T":1242,"y":2.393,"Z":782},{"p":1,"T":1242,"y":2.433,"Z":782},
{"p":1,"T":1279,"y":1.667,"Z":795},{"p":1,"T":1279,"y":1.707,"Z":795},{"p":1,"T":1279,"y":1.748,"Z":795},{"p":1,"T":1279,"y":1.788,"Z":794},{"p":1,"T":1279,"y":1.828,"Z":794},{"p":1,"T":1279,"y":1.869,"Z":794},{"p":1,"T":1279,"y":1.909,"Z":794},{"p":1,"T":1279,"y":1.949,"Z":794},{"p":1,"T":1279,"y":1.989,"Z":793},{"p":1,"T":1279,"y":2.03,"Z":793},{"p":1,"T":1279,"y":2.07,"Z":793},{"p":1,"T":1279,"y":2.11,"Z":793},{"p":1,"T":1279,"y":2.151,"Z":792},{"p":1,"T":1279,"y":2.191,"Z":792},{"p":1,"T":1279,"y":2.231,"Z":792},{"p":1,"T":1279,"y":2.272,"Z":792},{"p":1,"T":1279,"y":2.312,"Z":792},{"p":1,"T":1279,"y":2.352,"Z":791},{"p":1,"T":1279,"y":2.393,"Z":791},{"p":1,"T":1279,"y":2.433,"Z":791},
{"p":1,"T":1316,"y":1.667,"Z":804},{"p":1,"T":1316,"y":1.707,"Z":804},{"p":1,"T":1316,"y":1.748,"Z":804},{"p":1,"T":1316,"y":1.788,"Z":803},{"p":1,"T":1316,"y":1.828,"Z":803},{"p":1,"T":1316,"y":1.869,"Z":803},{"p":1,"T":1316,"y":1.909,"Z":803},{"p":1,"T":1316,"y":1.949,"Z":803},{"p":1,"T":1316,"y":1.989,"Z":802},{"p":1,"T":1316,"y":2.03,"Z":802},{"p":1,"T":1316,"y":2.07,"Z":802},{"p":1,"T":1316,"y":2.11,"Z":802},{"p":1,"T":1316,"y":2.151,"Z":801},{"p":1,"T":1316,"y":2.191,"Z":801},{"p":1,"T":1316,"y":2.231,"Z":801},{"p":1,"T":1316,"y":2.272,"Z":801},{"p":1,"T":1316,"y":2.312,"Z":801},{"p":1,"T":1316,"y":2.352,"Z":800},{"p":1,"T":1316,"y":2.393,"Z":800},{"p":1,"T":1316,"y":2.433,"Z":800},
{"p":1,"T":1353,"y":1.667,"Z":812},{"p":1,"T":1353,"y":1.707,"Z":812},{"p":1,"T":1353,"y":1.748,"Z":812},{"p":1,"T":1353,"y":1.788,"Z":812},{"p":1,"T":1353,"y":1.828,"Z":811},{"p":1,"T":1353,"y":1.869,"Z":811},{"p":1,"T":1353,"y":1.909,"Z":811},{"p":1,"T":1353,"y":1.949,"Z":811},{"p":1,"T":1353,"y":1.989,"Z":811},{"p":1,"T":1353,"y":2.03,"Z":811},{"p":1,"T":1353,"y":2.07,"Z":810},{"p":1,"T":1353,"y":2.11,"Z":810},{"p":1,"T":1353,"y":2.151,"Z":810},{"p":1,"T":1353,"y":2.191,"Z":810},{"p":1,"T":1353,"y":2.231,"Z":810},{"p":1,"T":1353,"y":2.272,"Z":810},{"p":1,"T":1353,"y":2.312,"Z":809},{"p":1,"T":1353,"y":2.352,"Z":809},{"p":1,"T":1353,"y":2.393,"Z":809},{"p":1,"T":1353,"y":2.433,"Z":809},
{"p":1,"T":1389,"y":1.667,"Z":820},{"p":1,"T":1389,"y":1.707,"Z":820},{"p":1,"T":1389,"y":1.748,"Z":820},{"p":1,"T":1389,"y":1.788,"Z":820},{"p":1,"T":1389,"y":1.828,"Z":820},{"p":1,"T":1389,"y":1.869,"Z":819},{"p":1,"T":1389,"y":1.909,"Z":819},{"p":1,"T":1389,"y":1.949,"Z":819},{"p":1,"T":1389,"y":1.989,"Z":819},{"p":1,"T":1389,"y":2.03,"Z":819},{"p":1,"T":1389,"y":2.07,"Z":819},{"p":1,"T":1389,"y":2.11,"Z":819},{"p":1,"T":1389,"y":2.151,"Z":819},{"p":1,"T":1389,"y":2.191,"Z":819},{"p":1,"T":1389,"y":2.231,"Z":819},{"p":1,"T":1389,"y":2.272,"Z":818},{"p":1,"T":1389,"y":2.312,"Z":818},{"p":1,"T":1389,"y":2.352,"Z":818},{"p":1,"T":1389,"y":2.393,"Z":818},{"p":1,"T":1389,"y":2.433,"Z":818},
{"p":1,"T":1426,"y":1.667,"Z":828},{"p":1,"T":1426,"y":1.707,"Z":828},{"p":1,"T":1426,"y":1.748,"Z":828},{"p":1,"T":1426,"y":1.788,"Z":828},{"p":1,"T":1426,"y":1.828,"Z":828},{"p":1,"T":1426,"y":1.869,"Z":827},{"p":1,"T":1426,"y":1.909,"Z":827},{"p":1,"T":1426,"y":1.949,"Z":827},{"p":1,"T":1426,"y":1.989,"Z":827},{"p":1,"T":1426,"y":2.03,"Z":827},{"p":1,"T":1426,"y":2.07,"Z":827},{"p":1,"T":1426,"y":2.11,"Z":827},{"p":1,"T":1426,"y":2.151,"Z":827},{"p":1,"T":1426,"y":2.191,"Z":827},{"p":1,"T":1426,"y":2.231,"Z":827},{"p":1,"T":1426,"y":2.272,"Z":826},{"p":1,"T":1426,"y":2.312,"Z":826},{"p":1,"T":1426,"y":2.352,"Z":826},{"p":1,"T":1426,"y":2.393,"Z":826},{"p":1,"T":1426,"y":2.433,"Z":826},
{"p":1,"T":1463,"y":1.667,"Z":835},{"p":1,"T":1463,"y":1.707,"Z":835},{"p":1,"T":1463,"y":1.748,"Z":835},{"p":1,"T":1463,"y":1.788,"Z":835},{"p":1,"T":1463,"y":1.828,"Z":835},{"p":1,"T":1463,"y":1.869,"Z":835},{"p":1,"T":1463,"y":1.909,"Z":835},{"p":1,"T":1463,"y":1.949,"Z":835},{"p":1,"T":1463,"y":1.989,"Z":835},{"p":1,"T":1463,"y":2.03,"Z":835},{"p":1,"T":1463,"y":2.07,"Z":835},{"p":1,"T":1463,"y":2.11,"Z":835},{"p":1,"T":1463,"y":2.151,"Z":835},{"p":1,"T":1463,"y":2.191,"Z":835},{"p":1,"T":1463,"y":2.231,"Z":835},{"p":1,"T":1463,"y":2.272,"Z":835},{"p":1,"T":1463,"y":2.312,"Z":835},{"p":1,"T":1463,"y":2.352,"Z":835},{"p":1,"T":1463,"y":2.393,"Z":835},{"p":1,"T":1463,"y":2.433,"Z":835},
{"p":1,"T":1500,"y":1.667,"Z":842},{"p":1,"T":1500,"y":1.707,"Z":842},{"p":1,"T":1500,"y":1.748,"Z":842},{"p":1,"T":1500,"y":1.788,"Z":842},{"p":1,"T":1500,"y":1.828,"Z":842},{"p":1,"T":1500,"y":1.869,"Z":843},{"p":1,"T":1500,"y":1.909,"Z":843},{"p":1,"T":1500,"y":1.949,"Z":843},{"p":1,"T":1500,"y":1.989,"Z":843},{"p":1,"T":1500,"y":2.03,"Z":843},{"p":1,"T":1500,"y":2.07,"Z":843},{"p":1,"T":1500,"y":2.11,"Z":843},{"p":1,"T":1500,"y":2.151,"Z":843},{"p":1,"T":1500,"y":2.191,"Z":843},{"p":1,"T":1500,"y":2.231,"Z":843},{"p":1,"T":1500,"y":2.272,"Z":844},{"p":1,"T":1500,"y":2.312,"Z":844},{"p":1,"T":1500,"y":2.352,"Z":844},{"p":1,"T":1500,"y":2.393,"Z":844},{"p":1,"T":1500,"y":2.433,"Z":844}
]},
"transform":[
{"calculate":"H[datum.p]","as":"h"},
{"calculate":"indexof(['T','y','Z'],datum.k)>=0?[0,1,2,3,4,5]:[datum.n]","as":"ms"},
{"flatten":["ms"],"as":["m"]},
{"calculate":"datum.k==='T'?(datum.t-749)/802:datum.k==='y'||datum.k==='Z'?(datum.m==1||datum.m==2?1:datum.m==3?0.007:datum.m==4?-0.018:0):(datum.T-749)/802","as":"u"},
{"calculate":"datum.k==='y'?(datum.t-datum.h[12])/datum.h[13]:datum.k==='T'?(datum.m==0||datum.m==5?0:datum.m==3?0.015:datum.m==4?-0.03:1):datum.k==='Z'?(datum.m==2?0:1):(datum.y-datum.h[12])/datum.h[13]","as":"v"},
{"calculate":"datum.k==='Z'?(datum.t-datum.h[14])/datum.h[15]:datum.k==='T'||datum.k==='y'?(datum.m==2?1:0):(datum.Z-datum.h[14])/datum.h[15]","as":"w"},
{"calculate":"datum.h[8]+datum.h[9]*datum.u+datum.h[10]*datum.v+datum.h[11]*datum.w","as":"d"},
{"calculate":"datum.k==='cb'?datum.h[18]:datum.cz?datum.h[19]:(datum.h[0]+datum.h[1]*datum.u+datum.h[2]*datum.v+datum.h[3]*datum.w)/datum.d","as":"sx"},
{"calculate":"datum.cz?1157-(datum.cz-datum.h[16])*datum.h[17]:(datum.h[4]+datum.h[5]*datum.u+datum.h[6]*datum.v+datum.h[7]*datum.w)/datum.d","as":"sy"}
],
"encoding":{"x":{"field":"sx","type":"quantitative","scale":{"domain":[0,3854],"nice":false,"zero":false},"axis":null},"y":{"field":"sy","type":"quantitative","scale":{"domain":[1388,0],"nice":false,"zero":false},"axis":null}},
"layer":[
{"transform":[{"filter":"datum.k==='pane'"}],"mark":{"type":"line","strokeWidth":0},"encoding":{"detail":[{"field":"p"},{"field":"s"}],"order":{"field":"m"},"fill":{"field":"s","type":"nominal","scale":{"domain":["f","b","r"],"range":["#f5f5f5","#f1f1f1","#fafafa"]},"legend":null}}},
{"transform":[{"filter":"indexof(['T','y','Z'],datum.k)>=0&&datum.m<=2&&!datum.title"}],"mark":{"type":"line","stroke":"#cfcfcf","strokeWidth":3},"encoding":{"detail":[{"field":"p"},{"field":"k"},{"field":"t"}],"order":{"field":"m"}}},
{"transform":[{"filter":"indexof(['T','y','Z'],datum.k)>=0&&(datum.m==3||datum.m==4)&&!datum.title"}],"mark":{"type":"line","stroke":"#262626","strokeWidth":3.5},"encoding":{"detail":[{"field":"p"},{"field":"k"},{"field":"t"}],"order":{"field":"m"}}},
{"transform":[{"filter":"datum.k==='ax'"}],"mark":{"type":"line","stroke":"#262626","strokeWidth":4.5},"encoding":{"detail":{"field":"p"},"order":{"field":"m"}}},
{"transform":[{"filter":"!datum.k"},{"calculate":"round((datum.T-800)/36.842)","as":"i"},{"calculate":"datum.p==0?round((datum.y-1)/0.47368):round((datum.y-1.667)/0.04032)","as":"j"},{"calculate":"[0,1,2,3,4]","as":"cs"},{"flatten":["cs"],"as":["c"]},{"calculate":"datum.i-(datum.c==1||datum.c==2?1:0)","as":"ci"},{"calculate":"datum.j-(datum.c==2||datum.c==3?1:0)","as":"cj"},{"filter":"datum.ci>=0&&datum.cj>=0&&datum.ci<19&&datum.cj<19"},{"calculate":"datum.p*10000+datum.ci*100+datum.cj","as":"cell"},{"calculate":"datum.c==4?null:datum.Z","as":"zc"},{"joinaggregate":[{"op":"mean","field":"zc","as":"zm"}],"groupby":["cell"]},{"calculate":"(datum.zm-datum.h[16])/(datum.h[20]-datum.h[16])","as":"f"}],
"mark":{"type":"line","stroke":"#333333","strokeWidth":1.3,"strokeOpacity":0.85},"encoding":{"detail":{"field":"cell","type":"nominal"},"order":{"field":"c"},"fill":{"field":"f","type":"quantitative","legend":null,"scale":{"clamp":true,"interpolate":"rgb","domain":[0,0.07,0.144,0.24,0.3,0.36,0.41,0.465,0.52,0.575,0.625,0.67,0.735,0.79,0.845,0.89,0.95,1],"range":["#2c41c2","#3c60d8","#4f84f0","#78adff","#98c4ff","#aecffa","#c3d6ef","#d0dae5","#e2dcd7","#f3d4c6","#ffc2a9","#ffb193","#ff9476","#ff7a5c","#ff6248","#f04b3a","#e02c2e","#d20225"]}}}},
{"transform":[{"filter":"datum.k==='cb'"},{"calculate":"datum.h[19]","as":"sx2"},{"calculate":"1157-(datum.cz2-datum.h[16])*datum.h[17]","as":"sy2"}],"mark":{"type":"rect","stroke":"#404040","strokeWidth":4,"fill":{"gradient":"linear","x1":0,"y1":1,"x2":0,"y2":0,"stops":[{"offset":0,"color":"#2c41c2"},{"offset":0.07,"color":"#3c60d8"},{"offset":0.144,"color":"#4f84f0"},{"offset":0.24,"color":"#78adff"},{"offset":0.3,"color":"#98c4ff"},{"offset":0.36,"color":"#aecffa"},{"offset":0.41,"color":"#c3d6ef"},{"offset":0.465,"color":"#d0dae5"},{"offset":0.52,"color":"#e2dcd7"},{"offset":0.575,"color":"#f3d4c6"},{"offset":0.625,"color":"#ffc2a9"},{"offset":0.67,"color":"#ffb193"},{"offset":0.735,"color":"#ff9476"},{"offset":0.79,"color":"#ff7a5c"},{"offset":0.845,"color":"#ff6248"},{"offset":0.89,"color":"#f04b3a"},{"offset":0.95,"color":"#e02c2e"},{"offset":1,"color":"#d20225"}]}},"encoding":{"x2":{"field":"sx2"},"y2":{"field":"sy2"}}},
{"transform":[{"filter":"datum.k==='ct'"},{"calculate":"datum.sx+20","as":"sx2"}],"mark":{"type":"rule","stroke":"#404040","strokeWidth":5},"encoding":{"x2":{"field":"sx2"}}},
{"transform":[{"filter":"datum.k==='ct'"}],"mark":{"type":"text","font":"DejaVu Serif","fontSize":38,"color":"#333333","align":"left","baseline":"middle","dx":34},"encoding":{"text":{"field":"cz","type":"quantitative","format":"d"}}},
{"transform":[{"filter":"datum.k==='cl'"}],"mark":{"type":"text","font":"DejaVu Serif","fontSize":37.5,"color":"#333333","align":"center","baseline":"middle","angle":90,"dx":0,"dy":-150},"encoding":{"text":{"field":"title"}}},
{"transform":[{"filter":"datum.k==='T'&&datum.m==5&&!datum.title&&datum.p==0"}],"mark":{"type":"text","font":"DejaVu Serif","fontSize":34,"color":"#333333","align":"center","baseline":"middle","dx":20,"dy":73},"encoding":{"text":{"field":"t","type":"quantitative","format":"d"}}},
{"transform":[{"filter":"datum.k==='T'&&datum.m==5&&!datum.title&&datum.p==1"}],"mark":{"type":"text","font":"DejaVu Serif","fontSize":34,"color":"#333333","align":"center","baseline":"middle","dx":27,"dy":73},"encoding":{"text":{"field":"t","type":"quantitative","format":"d"}}},
{"transform":[{"filter":"datum.k==='y'&&datum.m==5&&!datum.title&&datum.p==0"}],"mark":{"type":"text","font":"DejaVu Serif","fontSize":34,"color":"#333333","align":"center","baseline":"middle","dx":-45,"dy":57},"encoding":{"text":{"field":"t","type":"quantitative","format":"d"}}},
{"transform":[{"filter":"datum.k==='y'&&datum.m==5&&!datum.title&&datum.p==1"}],"mark":{"type":"text","font":"DejaVu Serif","fontSize":34,"color":"#333333","align":"center","baseline":"middle","dx":-42,"dy":60},"encoding":{"text":{"field":"t","type":"quantitative","format":".1f"}}},
{"transform":[{"filter":"datum.k==='Z'&&datum.m==5&&!datum.title&&datum.p==0"}],"mark":{"type":"text","font":"DejaVu Serif","fontSize":34,"color":"#333333","align":"center","baseline":"middle","dx":-62,"dy":1},"encoding":{"text":{"field":"t","type":"quantitative","format":"d"}}},
{"transform":[{"filter":"datum.k==='Z'&&datum.m==5&&!datum.title&&datum.p==1"}],"mark":{"type":"text","font":"DejaVu Serif","fontSize":34,"color":"#333333","align":"center","baseline":"middle","dx":-72,"dy":1},"encoding":{"text":{"field":"t","type":"quantitative","format":"d"}}},
{"transform":[{"filter":"datum.k==='T'&&datum.m==5&&datum.title&&datum.p==0"}],"mark":{"type":"text","font":"DejaVu Serif","fontSize":45,"color":"#333333","align":"center","baseline":"middle","angle":-11.5,"dx":8.4,"dy":139.5},"encoding":{"text":{"field":"title"}}},
{"transform":[{"filter":"datum.k==='T'&&datum.m==5&&datum.title&&datum.p==1"}],"mark":{"type":"text","font":"DejaVu Serif","fontSize":45,"color":"#333333","align":"center","baseline":"middle","angle":-18,"dx":13.7,"dy":135.9},"encoding":{"text":{"field":"title"}}},
{"transform":[{"filter":"datum.k==='y'&&datum.m==5&&datum.title&&datum.p==0"}],"mark":{"type":"text","font":"DejaVu Serif","fontSize":45,"color":"#333333","align":"center","baseline":"middle","angle":57.5,"dx":49.2,"dy":136.9},"encoding":{"text":{"field":"title"}}},
{"transform":[{"filter":"datum.k==='y'&&datum.m==5&&datum.title&&datum.p==1"}],"mark":{"type":"text","font":"DejaVu Serif","fontSize":45,"color":"#333333","align":"center","baseline":"middle","angle":45.8,"dx":-24.9,"dy":146.1},"encoding":{"text":{"field":"title"}}},
{"transform":[{"filter":"datum.k==='Z'&&datum.m==5&&datum.title&&datum.p==0"}],"mark":{"type":"text","font":"DejaVu Serif","fontSize":42,"fontWeight":"bold","color":"#262626","align":"center","baseline":"middle","dx":111,"dy":17},"encoding":{"text":{"field":"title"}}},
{"transform":[{"filter":"datum.k==='Z'&&datum.m==5&&datum.title&&datum.p==1"}],"mark":{"type":"text","font":"DejaVu Serif","fontSize":42,"fontWeight":"bold","color":"#262626","align":"center","baseline":"middle","dx":121,"dy":8},"encoding":{"text":{"field":"title"}}}
]}
